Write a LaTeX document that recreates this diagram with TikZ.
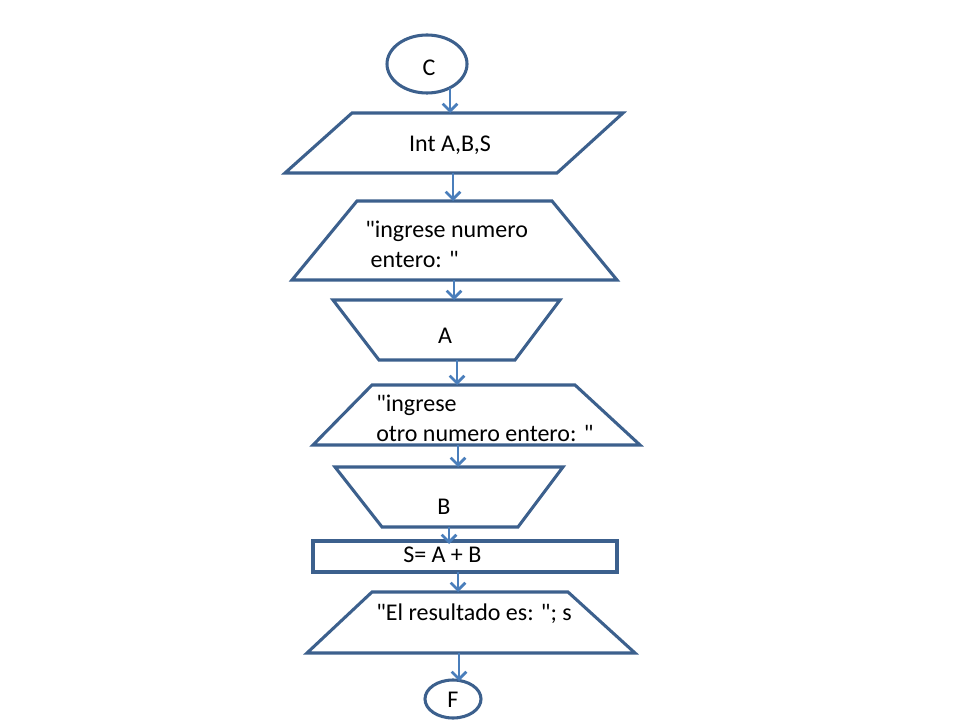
\documentclass[tikz,border=0pt]{standalone}
\usepackage{fontspec}
\setmainfont{Carlito}[Ligatures=TeXOff]
\usetikzlibrary{arrows.meta,shapes.geometric}
\definecolor{shapeline}{RGB}{60,96,141}
\definecolor{arrowline}{RGB}{74,126,187}
\begin{document}
\begin{tikzpicture}[x=0.75pt,y=-0.75pt,
  shp/.style={draw=shapeline, line width=2.3pt, line join=miter},
  arr/.style={draw=arrowline, line width=2pt, -{Straight Barb[length=5.5pt,width=11pt,line width=2pt]}},
  txt/.style={font=\fontsize{18}{22.5}\selectfont, inner sep=0pt, text=black}]
\useasboundingbox[fill=white] (0,0) rectangle (960,720);

% start terminator
\node[shp, ellipse, minimum width=60pt, minimum height=43.5pt, inner sep=0pt] (C) at (427,64) {};
\node[txt, anchor=base] (Ct) at (429,76) {C};

% declaration
\draw[shp] (352,113) -- (623,113) -- (557,173) -- (285,173) -- cycle;
\node[txt, anchor=base] (par) at (450,152) {Int A,B,S};

% first prompt
\draw[shp] (357,201) -- (552,201) -- (617,280) -- (292,280) -- cycle;
\node[txt, anchor=base west] (t1a) at (365,238) {"ingrese numero};
\node[txt, anchor=base west] (t1b) at (365,268) {\ entero: "};

% input A
\draw[shp] (333,300) -- (560,300) -- (515,360) -- (379,360) -- cycle;
\node[txt, anchor=base] (inA) at (445,344) {A};

% second prompt
\draw[shp] (372,385) -- (575,385) -- (640,445) -- (313,445) -- cycle;
\node[txt, anchor=base west] (t2a) at (376,411) {"ingrese};
\node[txt, anchor=base west] (t2b) at (376,441) {otro numero entero: "};

% input B
\draw[shp] (335,467) -- (563,467) -- (518,527) -- (382,527) -- cycle;
\node[txt, anchor=base] (inB) at (444,514) {B};

% process
\draw[shp] (313,541) rectangle (617,572);
\node[txt, anchor=base west] (proc) at (403,562) {S= A + B};

% output
\draw[shp] (372,592) -- (568,592) -- (635,653) -- (307,653) -- cycle;
\node[txt, anchor=base west] (out) at (376,620) {"El resultado es: "; s};

% end terminator
\node[shp, ellipse, minimum width=42pt, minimum height=28.5pt, inner sep=0pt] (F) at (453,699) {};
\node[txt, anchor=base] (Ft) at (453,707) {F};

% connector end points
\coordinate (a1s) at (450,88);  \coordinate (a1e) at (450,113);
\coordinate (a2s) at (453,173); \coordinate (a2e) at (453,201);
\coordinate (a3s) at (454,280); \coordinate (a3e) at (454,300);
\coordinate (a4s) at (457,360); \coordinate (a4e) at (457,385);
\coordinate (a5s) at (458,445); \coordinate (a5e) at (458,467);
\coordinate (a6s) at (449,527); \coordinate (a6e) at (449,544);
\coordinate (a7s) at (458,572); \coordinate (a7e) at (458,592);
\coordinate (a8s) at (459,653); \coordinate (a8e) at (459,681);

\draw[arr] (a1s) -- (a1e);
\draw[arr] (a2s) -- (a2e);
\draw[arr] (a3s) -- (a3e);
\draw[arr] (a4s) -- (a4e);
\draw[arr] (a5s) -- (a5e);
\draw[arr] (a6s) -- (a6e);
\draw[arr] (a7s) -- (a7e);
\draw[arr] (a8s) -- (a8e);
\end{tikzpicture}
\end{document}
